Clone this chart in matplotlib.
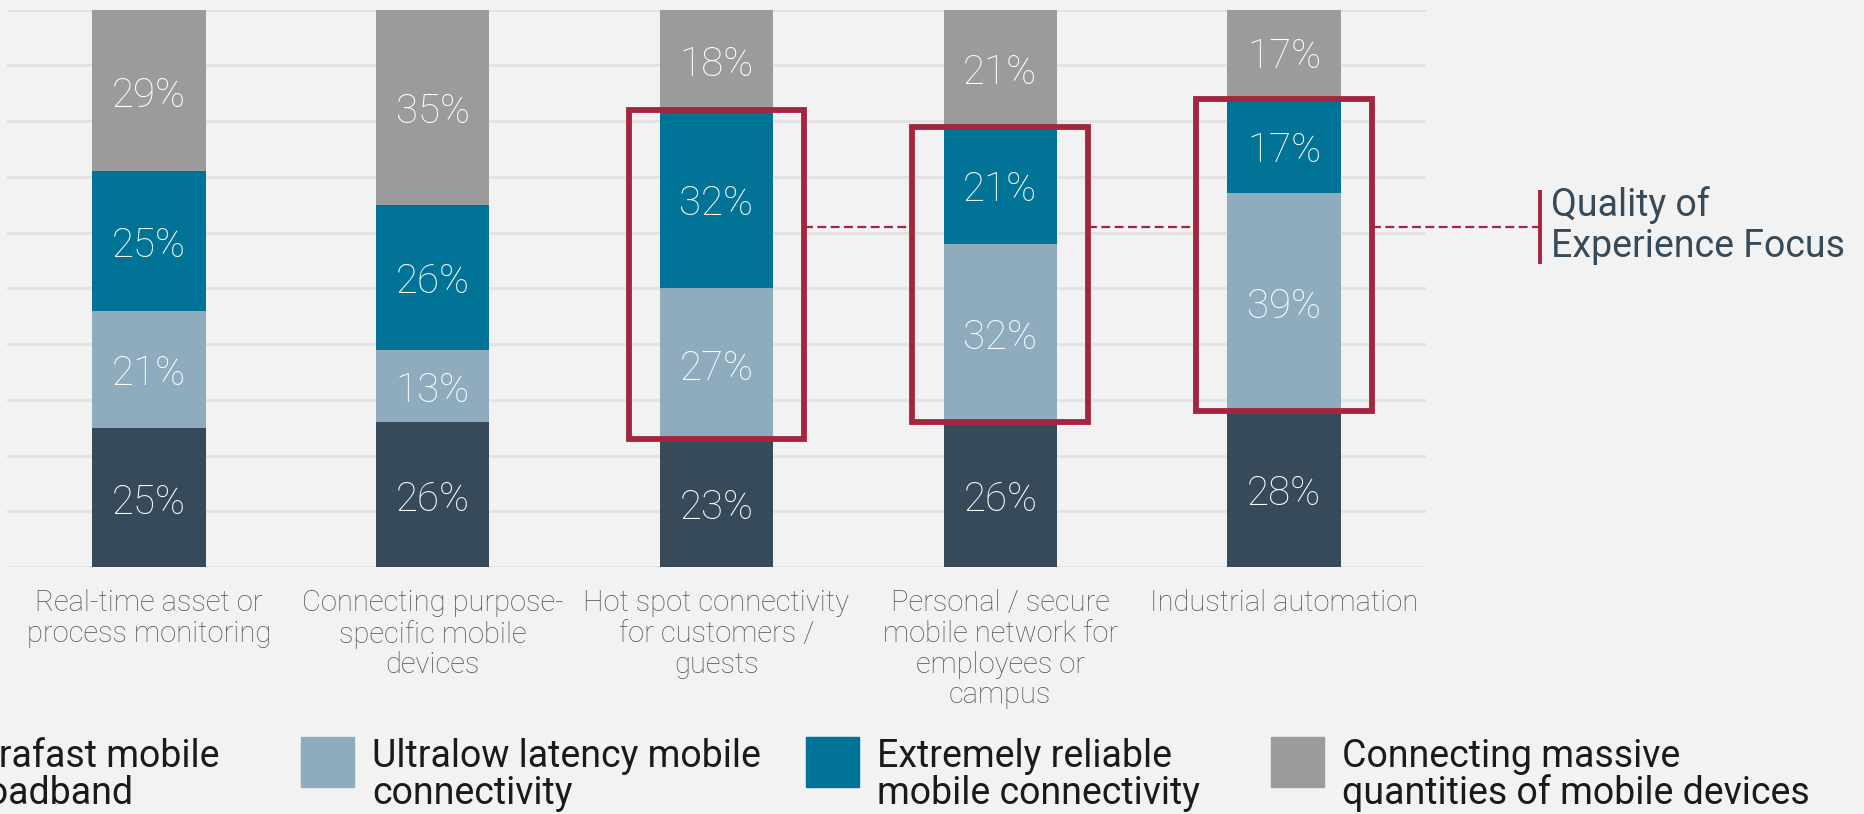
import matplotlib.pyplot as plt
import matplotlib.patches as mpatches
import numpy as np

categories = ["Real-time asset or\nprocess monitoring",
              "Connecting purpose-\nspecific mobile\ndevices",
              "Hot spot connectivity\nfor customers /\nguests",
              "Personal / secure\nmobile network for\nemployees or\ncampus",
              "Industrial automation"]
series = ["Ultrafast mobile\nbroadband",
          "Ultralow latency mobile\nconnectivity",
          "Extremely reliable\nmobile connectivity",
          "Connecting massive\nquantities of mobile devices"]
ultrafast = [25, 26, 23, 26, 28]
ultralow = [21, 13, 27, 32, 39]
reliable = [25, 26, 32, 21, 17]
massive = [29, 35, 18, 21, 17]
highlight = [2, 3, 4]  # bars framed as quality-of-experience focus
qoe_level = 61
qoe_text = "Quality of\nExperience Focus"

colors = ["#364a59", "#8facbf", "#007396", "#9b9b9d"]
red = "#a3263f"
bg = "#f2f2f2"

plt.rcParams['font.family'] = ['Roboto', 'DejaVu Sans']

fig = plt.figure(figsize=(18.65, 8.14), dpi=100, facecolor=bg)
ax = fig.add_axes([7 / 1865, 1 - 567 / 814, 1419 / 1865, 557.5 / 814])
ax.set_facecolor(bg)

x = np.arange(len(categories))
w = 0.4
data = [ultrafast, ultralow, reliable, massive]
bottom = np.zeros(len(categories))
for vals, c in zip(data, colors):
    vals = np.array(vals)
    ax.bar(x, vals, w, bottom=bottom, color=c, zorder=2)
    for xi, b, v in zip(x, bottom, vals):
        ax.text(xi, b + v / 2 - 0.9, f"{v}%", ha="center", va="center", color="white",
                fontsize=29, fontweight="light", zorder=3)
    bottom = bottom + vals

ax.set_xlim(-0.5, 4.5)
ax.set_ylim(0, 100)
ax.set_yticks(np.arange(0, 101, 10))
ax.yaxis.grid(True, color="#e3e3e3", lw=2.2, zorder=0)
ax.tick_params(axis="y", left=False, labelleft=False)
ax.tick_params(axis="x", length=0, pad=16)
ax.set_xticks(x)
ax.set_xticklabels(categories, fontsize=21, color="#555555", fontweight="light",
                   linespacing=1.12, va="top")
for s in ax.spines.values():
    s.set_visible(False)

# red frames around the two middle segments
lo = np.array(ultrafast)
hi = lo + np.array(ultralow) + np.array(reliable)
bw = 0.31
for i in highlight:
    ax.add_patch(mpatches.Rectangle((i - bw, lo[i]), 2 * bw, hi[i] - lo[i], fill=False,
                                    ec=red, lw=4.2, zorder=4, clip_on=False))

# dashed connectors between frames and to the annotation
for a, b in zip(highlight[:-1], highlight[1:]):
    ax.plot([a + bw, b - bw], [qoe_level, qoe_level], color=red, lw=1.6,
            ls=(0, (4, 2)), zorder=4, clip_on=False)
ax.plot([highlight[-1] + bw, 4.9], [qoe_level, qoe_level], color=red, lw=1.6,
        ls=(0, (4, 2)), zorder=4, clip_on=False)
ax.plot([4.9, 4.9], [54.3, 67.7], color=red, lw=2.8, clip_on=False, solid_capstyle="butt")
ax.text(4.94, qoe_level + 0.3, qoe_text, ha="left", va="center", fontsize=27,
        color="#364a59", linespacing=1.15)

# legend drawn by hand, the first entry runs off the left edge
sq_x = [-122, 301, 806, 1271]
for i, (lab, c) in enumerate(zip(series, colors)):
    fig.patches.append(mpatches.Rectangle((sq_x[i] / 1865, 1 - 787 / 814), 53 / 1865, 50 / 814,
                                          transform=fig.transFigure, color=c))
    if i == 0:
        fig.text(220 / 1865, 1 - 775 / 814, lab, ha="right", va="center", multialignment="left",
                 fontsize=27, color="#1a1a1a", linespacing=1.0)
    else:
        fig.text((sq_x[i] + 71) / 1865, 1 - 775 / 814, lab, ha="left", va="center",
                 fontsize=27, color="#1a1a1a", linespacing=1.0)

fig.savefig("out.png", dpi=100, facecolor=bg)
